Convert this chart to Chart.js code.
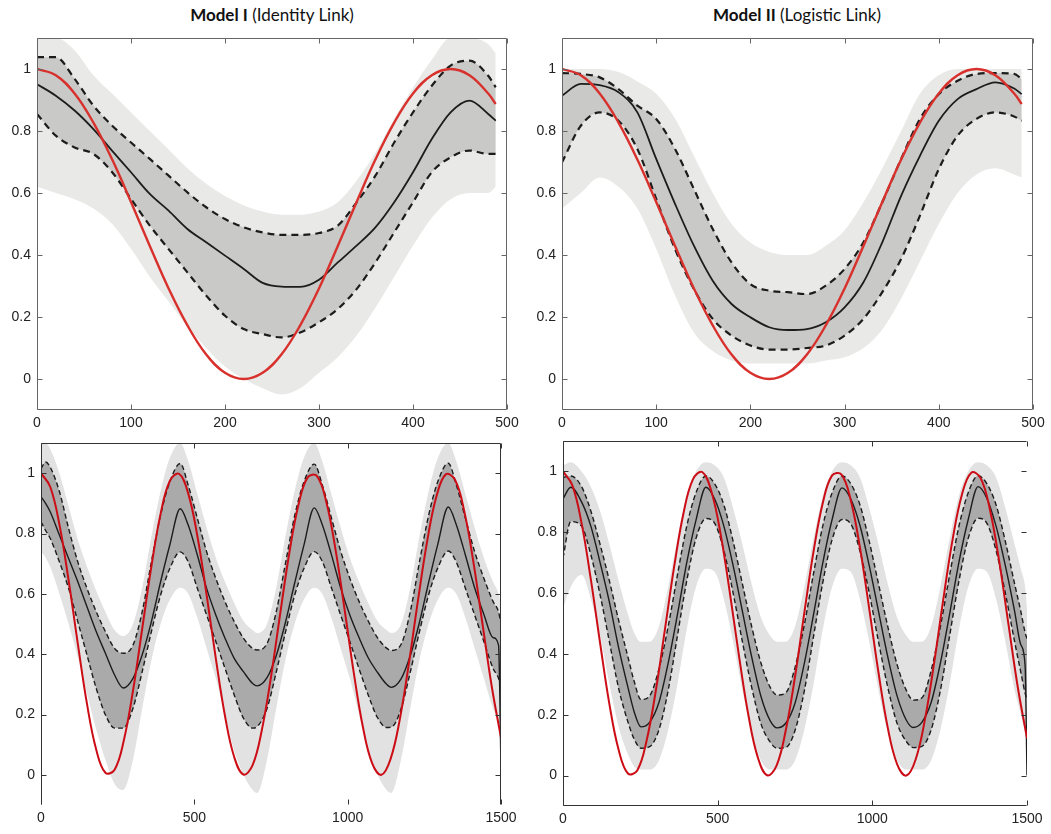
<!DOCTYPE html>
<html>
<head>
<meta charset="utf-8">
<script src="https://cdn.jsdelivr.net/npm/chart.js@4.4.1/dist/chart.umd.min.js"></script>
<style>
  body { margin: 0; background: #fff; width: 1051px; height: 834px; position: relative; overflow: hidden; }
  canvas { position: absolute; }
  .ttl { position: absolute; top: 4px; font-family: Lato, 'Open Sans', sans-serif; font-size: 17px; color: #111;
         white-space: nowrap; transform: translateX(-50%); }
  .ttl b { font-weight: 700; }
</style>
</head>
<body>
<div class="ttl" style="left:272px"><b>Model I</b> (Identity Link)</div>
<div class="ttl" style="left:797px"><b>Model II</b> (Logistic Link)</div>
<canvas id="tl" width="525" height="440" style="left:0;top:0"></canvas>
<canvas id="tr" width="526" height="440" style="left:525px;top:0"></canvas>
<canvas id="bl" width="525" height="414" style="left:0;top:420px"></canvas>
<canvas id="br" width="526" height="414" style="left:525px;top:420px"></canvas>
<script>
// tick labels
const yTicks = [0, 0.2, 0.4, 0.6, 0.8, 1];
const topXTicks = [0, 100, 200, 300, 400, 500];
const botXTicks = [0, 500, 1000, 1500];

// top row (x 0..500)
const topX = [0, 20, 40, 60, 80, 100, 120, 140, 160, 180, 200, 220, 240, 260, 280, 300, 320, 340, 360, 380, 400, 420, 440, 460, 480, 488];
const topRed = [1.000, 0.980, 0.921, 0.827, 0.708, 0.571, 0.429, 0.292, 0.173, 0.079, 0.020, 0.000, 0.020, 0.079, 0.173, 0.292, 0.429, 0.571, 0.708, 0.827, 0.921, 0.980, 1.000, 0.980, 0.921, 0.887];

const tlMean = [0.951, 0.914, 0.866, 0.806, 0.736, 0.667, 0.597, 0.543, 0.484, 0.441, 0.398, 0.355, 0.310, 0.298, 0.297, 0.320, 0.376, 0.430, 0.489, 0.570, 0.667, 0.774, 0.860, 0.898, 0.855, 0.833];
const tlUpper = [1.038, 1.038, 0.968, 0.882, 0.817, 0.763, 0.710, 0.656, 0.602, 0.554, 0.516, 0.489, 0.473, 0.465, 0.465, 0.471, 0.495, 0.570, 0.656, 0.763, 0.860, 0.946, 1.011, 1.027, 0.978, 0.941];
const tlLower = [0.855, 0.785, 0.747, 0.726, 0.667, 0.581, 0.495, 0.419, 0.344, 0.269, 0.204, 0.161, 0.145, 0.134, 0.150, 0.183, 0.226, 0.290, 0.376, 0.473, 0.570, 0.667, 0.715, 0.737, 0.726, 0.726];
const tlCloudHi = [1.10, 1.10, 1.06, 0.98, 0.92, 0.86, 0.80, 0.74, 0.68, 0.63, 0.59, 0.56, 0.54, 0.53, 0.53, 0.54, 0.57, 0.64, 0.73, 0.84, 0.94, 1.03, 1.10, 1.10, 1.08, 1.05];
const tlCloudLo = [0.62, 0.60, 0.58, 0.55, 0.50, 0.42, 0.33, 0.25, 0.17, 0.10, 0.04, 0.00, -0.03, -0.05, -0.03, 0.02, 0.07, 0.14, 0.23, 0.33, 0.43, 0.52, 0.58, 0.60, 0.60, 0.62];

const trMean = [0.914, 0.952, 0.948, 0.925, 0.860, 0.710, 0.565, 0.430, 0.317, 0.242, 0.199, 0.167, 0.158, 0.161, 0.183, 0.231, 0.312, 0.441, 0.591, 0.720, 0.833, 0.903, 0.935, 0.957, 0.937, 0.919];
const trUpper = [0.987, 0.984, 0.973, 0.935, 0.882, 0.839, 0.742, 0.613, 0.484, 0.376, 0.306, 0.285, 0.280, 0.274, 0.301, 0.355, 0.441, 0.570, 0.710, 0.839, 0.919, 0.962, 0.984, 0.987, 0.984, 0.968];
const trLower = [0.699, 0.817, 0.860, 0.833, 0.742, 0.581, 0.419, 0.290, 0.194, 0.140, 0.108, 0.095, 0.095, 0.100, 0.108, 0.140, 0.194, 0.280, 0.387, 0.527, 0.677, 0.785, 0.839, 0.860, 0.847, 0.833];
const trCloudHi = [1.00, 1.00, 1.00, 0.99, 0.96, 0.92, 0.84, 0.72, 0.60, 0.50, 0.44, 0.41, 0.40, 0.40, 0.43, 0.48, 0.57, 0.68, 0.80, 0.92, 0.98, 1.00, 1.00, 1.00, 1.00, 1.00];
const trCloudLo = [0.55, 0.60, 0.65, 0.62, 0.55, 0.42, 0.27, 0.15, 0.09, 0.06, 0.05, 0.05, 0.05, 0.05, 0.06, 0.07, 0.10, 0.16, 0.26, 0.38, 0.50, 0.60, 0.66, 0.68, 0.66, 0.65];

// bottom row (x 0..1500)
const botRedX = [0, 30, 60, 90, 120, 150, 180, 210, 240, 270, 300, 330, 360, 390, 420, 450, 480, 510, 540, 570, 600, 630, 660, 690, 720, 750,
  780, 810, 840, 870, 900, 930, 960, 990, 1020, 1050, 1080, 1110, 1140, 1170, 1200, 1230, 1260, 1290, 1320, 1350, 1380, 1410, 1440, 1470, 1500];
const botRed = [1.000, 0.955, 0.830, 0.645, 0.435, 0.235, 0.084, 0.007, 0.017, 0.114, 0.279, 0.484, 0.691, 0.865, 0.974, 0.998, 0.933, 0.791, 0.597, 0.386, 0.195, 0.059, 0.001, 0.032, 0.148, 0.325,
  0.534, 0.737, 0.897, 0.987, 0.990, 0.906, 0.749, 0.548, 0.338, 0.157, 0.038, 0.000, 0.053, 0.184, 0.372, 0.583, 0.779, 0.925, 0.996, 0.978, 0.875, 0.705, 0.498, 0.292, 0.123];

const blX = [0, 15, 30, 60, 90, 120, 150, 180, 210, 240, 268,
  300, 330, 360, 390, 420, 454,
  480, 510, 540, 570, 600, 630, 660, 690, 705,
  737, 767, 797, 827, 857, 891,
  917, 947, 977, 1007, 1037, 1067, 1097, 1127, 1142,
  1174, 1204, 1234, 1264, 1294, 1328,
  1354, 1384, 1414, 1444, 1474, 1492, 1500];
const blMean = [0.922, 0.900, 0.872, 0.795, 0.717, 0.640, 0.557, 0.475, 0.403, 0.331, 0.288,
  0.320, 0.398, 0.508, 0.640, 0.762, 0.882,
  0.828, 0.728, 0.618, 0.530, 0.453, 0.386, 0.342, 0.303, 0.295,
  0.322, 0.395, 0.505, 0.635, 0.760, 0.885,
  0.830, 0.730, 0.620, 0.530, 0.455, 0.388, 0.340, 0.300, 0.290,
  0.318, 0.395, 0.505, 0.638, 0.765, 0.888,
  0.830, 0.728, 0.620, 0.532, 0.455, 0.430, 0.020];
const blUpper = [1.015, 1.037, 1.020, 0.939, 0.817, 0.706, 0.618, 0.541, 0.475, 0.419, 0.403,
  0.430, 0.541, 0.706, 0.861, 0.971, 1.032,
  0.960, 0.850, 0.740, 0.651, 0.574, 0.508, 0.453, 0.419, 0.414,
  0.435, 0.540, 0.700, 0.858, 0.970, 1.030,
  0.962, 0.852, 0.742, 0.652, 0.575, 0.510, 0.455, 0.420, 0.412,
  0.432, 0.540, 0.705, 0.860, 0.972, 1.033,
  0.962, 0.850, 0.740, 0.652, 0.575, 0.540, 0.500];
const blLower = [0.839, 0.810, 0.784, 0.706, 0.618, 0.508, 0.397, 0.287, 0.199, 0.155, 0.155,
  0.221, 0.342, 0.475, 0.596, 0.684, 0.739,
  0.706, 0.618, 0.530, 0.442, 0.353, 0.265, 0.188, 0.155, 0.160,
  0.220, 0.340, 0.472, 0.595, 0.683, 0.740,
  0.708, 0.620, 0.530, 0.442, 0.352, 0.265, 0.190, 0.157, 0.158,
  0.218, 0.340, 0.474, 0.597, 0.686, 0.742,
  0.706, 0.618, 0.530, 0.442, 0.353, 0.320, 0.290];
const blCloudHi = [1.10, 1.10, 1.08, 1.00, 0.89, 0.78, 0.69, 0.61, 0.54, 0.48, 0.46,
  0.50, 0.62, 0.79, 0.94, 1.05, 1.10,
  1.04, 0.93, 0.82, 0.72, 0.64, 0.57, 0.51, 0.48, 0.47,
  0.50, 0.62, 0.79, 0.94, 1.05, 1.10,
  1.04, 0.93, 0.82, 0.72, 0.64, 0.57, 0.51, 0.48, 0.47,
  0.50, 0.62, 0.79, 0.94, 1.05, 1.10,
  1.04, 0.93, 0.82, 0.72, 0.64, 0.60, 0.56];
const blCloudLo = [0.74, 0.72, 0.69, 0.60, 0.50, 0.39, 0.27, 0.15, 0.05, -0.03, -0.05,
  0.05, 0.22, 0.38, 0.50, 0.58, 0.62,
  0.60, 0.52, 0.42, 0.32, 0.20, 0.08, 0.00, -0.05, -0.06,
  0.05, 0.22, 0.38, 0.50, 0.58, 0.62,
  0.60, 0.52, 0.42, 0.32, 0.20, 0.08, 0.00, -0.05, -0.06,
  0.05, 0.22, 0.38, 0.50, 0.58, 0.62,
  0.60, 0.52, 0.42, 0.32, 0.22, 0.18, 0.15];

const brX = [0, 25, 60, 90, 120, 150, 180, 210, 230, 252,
  280, 310, 340, 370, 400, 430, 462,
  490, 520, 550, 580, 610, 640, 670, 692,
  720, 750, 780, 810, 840, 870, 902,
  930, 960, 990, 1020, 1050, 1080, 1110, 1132,
  1160, 1190, 1220, 1250, 1280, 1310, 1342,
  1370, 1400, 1430, 1460, 1480, 1494, 1500];
const brMean = [0.910, 0.948, 0.900, 0.820, 0.700, 0.570, 0.420, 0.290, 0.210, 0.160,
  0.175, 0.240, 0.370, 0.530, 0.700, 0.840, 0.948,
  0.910, 0.820, 0.690, 0.540, 0.390, 0.260, 0.180, 0.157,
  0.172, 0.238, 0.368, 0.530, 0.700, 0.842, 0.946,
  0.910, 0.822, 0.690, 0.540, 0.390, 0.262, 0.182, 0.158,
  0.175, 0.240, 0.370, 0.532, 0.702, 0.842, 0.950,
  0.912, 0.820, 0.690, 0.540, 0.430, 0.360, 0.000];
const brUpper = [0.980, 0.985, 0.950, 0.870, 0.760, 0.640, 0.510, 0.390, 0.310, 0.250,
  0.262, 0.350, 0.490, 0.660, 0.820, 0.930, 0.985,
  0.960, 0.890, 0.770, 0.630, 0.490, 0.370, 0.290, 0.265,
  0.272, 0.355, 0.495, 0.665, 0.822, 0.930, 0.985,
  0.960, 0.890, 0.770, 0.630, 0.490, 0.365, 0.280, 0.248,
  0.255, 0.345, 0.490, 0.660, 0.820, 0.930, 0.986,
  0.960, 0.890, 0.770, 0.630, 0.540, 0.470, 0.450];
const brLower = [0.715, 0.835, 0.820, 0.726, 0.594, 0.440, 0.286, 0.176, 0.120, 0.090,
  0.095, 0.150, 0.280, 0.460, 0.640, 0.780, 0.845,
  0.830, 0.740, 0.600, 0.440, 0.290, 0.170, 0.110, 0.090,
  0.092, 0.148, 0.278, 0.458, 0.636, 0.776, 0.842,
  0.828, 0.738, 0.600, 0.440, 0.290, 0.172, 0.112, 0.092,
  0.096, 0.150, 0.280, 0.460, 0.640, 0.780, 0.846,
  0.830, 0.740, 0.600, 0.440, 0.340, 0.270, 0.250];
const brCloudHi = [1.02, 1.03, 1.00, 0.95, 0.87, 0.76, 0.64, 0.53, 0.47, 0.44,
  0.44, 0.49, 0.62, 0.78, 0.92, 1.00, 1.03,
  1.02, 0.98, 0.88, 0.76, 0.63, 0.52, 0.46, 0.44,
  0.44, 0.49, 0.62, 0.78, 0.92, 1.00, 1.03,
  1.02, 0.98, 0.88, 0.76, 0.63, 0.52, 0.46, 0.44,
  0.44, 0.49, 0.62, 0.78, 0.92, 1.00, 1.03,
  1.02, 0.98, 0.88, 0.76, 0.68, 0.62, 0.55];
const brCloudLo = [0.55, 0.62, 0.66, 0.58, 0.46, 0.30, 0.16, 0.07, 0.03, 0.02,
  0.02, 0.05, 0.15, 0.30, 0.48, 0.62, 0.68,
  0.67, 0.58, 0.44, 0.28, 0.14, 0.05, 0.02, 0.02,
  0.02, 0.05, 0.15, 0.30, 0.48, 0.62, 0.68,
  0.67, 0.58, 0.44, 0.28, 0.14, 0.05, 0.02, 0.02,
  0.02, 0.05, 0.15, 0.30, 0.48, 0.62, 0.68,
  0.67, 0.58, 0.44, 0.28, 0.20, 0.14, 0.10];

const pts = (xs, ys) => xs.map((x, i) => ({ x: x, y: ys[i] }));

// box sides + inward tick marks, matlab style
const framePlugin = {
  id: 'frame',
  afterDatasetsDraw(chart, args, opts) {
    const { ctx, chartArea: a } = chart;
    const xs = chart.scales.x, ys = chart.scales.y;
    const L = Math.round(a.left) + 0.5, R = Math.round(a.right) - 0.5;
    const T = Math.round(a.top) + 0.5, B = Math.round(a.bottom) - 0.5;
    ctx.save();
    ctx.strokeStyle = opts.color;
    ctx.lineWidth = 1;
    ctx.beginPath();
    if (opts.sides.includes('t')) { ctx.moveTo(L, T); ctx.lineTo(R, T); }
    if (opts.sides.includes('b')) { ctx.moveTo(L, B); ctx.lineTo(R, B); }
    if (opts.sides.includes('l')) { ctx.moveTo(L, T); ctx.lineTo(L, B); }
    if (opts.sides.includes('r')) { ctx.moveTo(R, T); ctx.lineTo(R, B); }
    opts.xTicks.forEach(v => {
      const p = Math.round(xs.getPixelForValue(v)) + 0.5;
      ctx.moveTo(p, B); ctx.lineTo(p, B - 5);
      ctx.moveTo(p, T); ctx.lineTo(p, T + 5);
    });
    yTicks.forEach(v => {
      const p = Math.round(ys.getPixelForValue(v)) + 0.5;
      ctx.moveTo(L, p); ctx.lineTo(L + 5, p);
      ctx.moveTo(R, p); ctx.lineTo(R - 5, p);
    });
    ctx.stroke();
    ctx.restore();
  }
};

function makePanel(id, p) {
  const cv = document.getElementById(id);
  const W = cv.width, H = cv.height;
  const tickFont = { family: "'Liberation Sans', Arial, sans-serif", size: 14 };
  new Chart(cv, {
    type: 'line',
    data: {
      datasets: [
        // true curve: plain spline so the troughs stay rounded
        { data: pts(p.redX, p.red), borderColor: p.redColor, borderWidth: p.redWidth,
          cubicInterpolationMode: 'default', tension: 0.4 },
        { data: pts(p.x, p.mean), borderColor: '#1c1c1c', borderWidth: p.meanWidth },
        { data: pts(p.x, p.upper), borderColor: '#1c1c1c', borderWidth: p.dashWidth, borderDash: p.dash },
        { data: pts(p.x, p.lower), borderColor: '#1c1c1c', borderWidth: p.dashWidth, borderDash: p.dash,
          fill: '-1', backgroundColor: p.core },
        { data: pts(p.x, p.hi), borderColor: 'transparent', borderWidth: 0 },
        { data: pts(p.x, p.lo), borderColor: 'transparent', borderWidth: 0, fill: '-1', backgroundColor: p.outer }
      ]
    },
    options: {
      responsive: false,
      animation: false,
      devicePixelRatio: 1,
      layout: { padding: { top: p.area.t, right: W - p.area.r, left: 0, bottom: 0 } },
      elements: { point: { radius: 0 }, line: { cubicInterpolationMode: 'monotone', fill: false } },
      plugins: {
        legend: { display: false },
        tooltip: { enabled: false },
        frame: { sides: p.sides, color: p.frameColor, xTicks: p.xTicks }
      },
      scales: {
        x: {
          type: 'linear', min: 0, max: p.xMax,
          grid: { display: false, drawTicks: false },
          border: { display: false },
          afterBuildTicks: s => { s.ticks = p.xTicks.map(v => ({ value: v })); },
          afterFit: s => { s.height = H - p.area.b; s.paddingLeft = 0; s.paddingRight = 0; },
          ticks: { font: tickFont, color: '#222', padding: 5, maxRotation: 0, autoSkip: false, callback: v => String(v) }
        },
        y: {
          type: 'linear', min: -0.1, max: 1.1,
          grid: { display: false, drawTicks: false },
          border: { display: false },
          afterBuildTicks: s => { s.ticks = yTicks.map(v => ({ value: v })); },
          afterFit: s => { s.width = p.area.l; s.paddingTop = 0; s.paddingBottom = 0; },
          ticks: { font: tickFont, color: '#222', padding: 6, autoSkip: false, callback: v => String(v) }
        }
      }
    },
    plugins: [framePlugin]
  });
}

const topStyle = { redColor: '#d8312d', redWidth: 2.4, meanWidth: 1.8, dashWidth: 2.2, dash: [7, 5],
  core: '#c9c9c7', outer: '#e9e9e7', frameColor: '#666', xMax: 500, xTicks: topXTicks, redX: topX, red: topRed, x: topX };
const botStyle = { redColor: '#cc0d16', redWidth: 2, meanWidth: 1.4, dashWidth: 1.4, dash: [5, 3],
  core: '#aaaaaa', outer: '#e2e2e2', frameColor: '#333', xMax: 1500, xTicks: botXTicks, redX: botRedX, red: botRed };

makePanel('tl', Object.assign({}, topStyle, { area: { l: 37, t: 38, r: 507, b: 410 }, sides: 'tblr',
  mean: tlMean, upper: tlUpper, lower: tlLower, hi: tlCloudHi, lo: tlCloudLo }));
makePanel('tr', Object.assign({}, topStyle, { area: { l: 37, t: 38, r: 508, b: 410 }, sides: 'tblr',
  mean: trMean, upper: trUpper, lower: trLower, hi: trCloudHi, lo: trCloudLo }));
makePanel('bl', Object.assign({}, botStyle, { area: { l: 41, t: 23, r: 501, b: 385 }, sides: 'tlr',
  x: blX, mean: blMean, upper: blUpper, lower: blLower, hi: blCloudHi, lo: blCloudLo }));
makePanel('br', Object.assign({}, botStyle, { area: { l: 38, t: 21, r: 502, b: 386 }, sides: 'tlb',
  x: brX, mean: brMean, upper: brUpper, lower: brLower, hi: brCloudHi, lo: brCloudLo }));
</script>
</body>
</html>
